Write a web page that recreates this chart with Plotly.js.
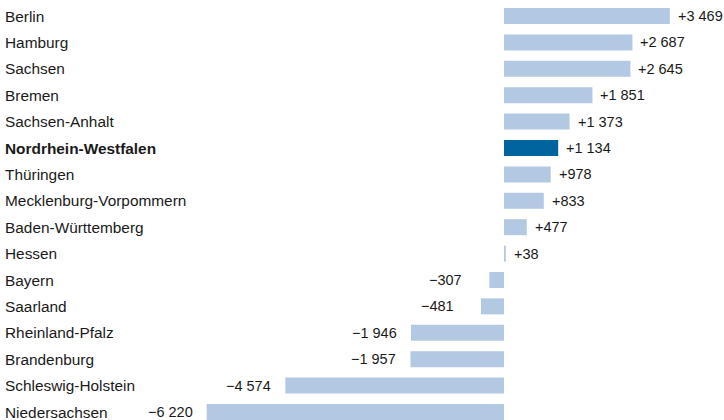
<!DOCTYPE html>
<html><head><meta charset="utf-8">
<script src="https://cdn.plot.ly/plotly-3.0.1.min.js"></script>
<style>html,body{margin:0;padding:0;background:#fff;}#chart{width:724px;height:420px;}</style>
</head><body><div id="chart"></div>
<script>
const states = ["Berlin","Hamburg","Sachsen","Bremen","Sachsen-Anhalt","Nordrhein-Westfalen","Thüringen","Mecklenburg-Vorpommern","Baden-Württemberg","Hessen","Bayern","Saarland","Rheinland-Pfalz","Brandenburg","Schleswig-Holstein","Niedersachsen"];
const values = [3469,2687,2645,1851,1373,1134,978,833,477,38,-307,-481,-1946,-1957,-4574,-6220];
const highlight = "Nordrhein-Westfalen";

const light = "#b3c9e3", dark = "#00649f";
const fmt = v => (v >= 0 ? "+" : "\u2212") + Math.abs(v).toString().replace(/\B(?=(\d{3})+(?!\d))/g, " ");

const trace = {
  type: "bar", orientation: "h",
  y: states, x: values,
  marker: {color: states.map(s => s === highlight ? dark : light)},
  width: 0.606, hoverinfo: "none"
};

const ann = [];
states.forEach((s, i) => {
  const v = values[i];
  ann.push({xref: "paper", x: 0.004, y: s, yref: "y", text: s === highlight ? "<b>" + s + "</b>" : s,
    showarrow: false, xanchor: "left", font: {size: 15.4, color: "#1a1a1a"}});
  ann.push({x: v, y: s, text: fmt(v), showarrow: false,
    xanchor: v >= 0 ? "left" : "right",
    xshift: v >= 0 ? 6 : (Math.abs(v) < 1000 ? -25 : -12),
    font: {size: 14.5, color: "#1a1a1a"}});
});

const layout = {
  width: 724, height: 420,
  margin: {l: 0, r: 0, t: 0, b: 0},
  paper_bgcolor: "#fff", plot_bgcolor: "#fff",
  font: {family: "Liberation Sans, Arial, sans-serif", size: 14, color: "#1a1a1a"},
  showlegend: false,
  xaxis: {range: [-10544, 4603], showgrid: false, zeroline: false, showticklabels: false, fixedrange: true},
  yaxis: {type: "category", range: [15.303, -0.606], showgrid: false, zeroline: false, showticklabels: false, fixedrange: true},
  annotations: ann
};
Plotly.newPlot("chart", [trace], layout, {staticPlot: true, displayModeBar: false});
</script></body></html>
